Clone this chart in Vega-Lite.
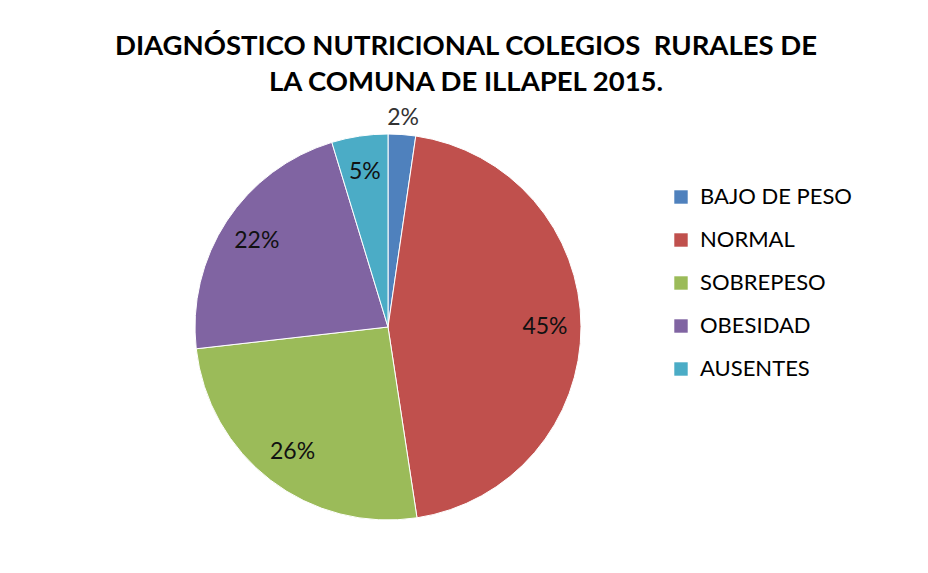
{
  "$schema": "https://vega.github.io/schema/vega-lite/v6.json",
  "width": 776,
  "height": 414,
  "autosize": "none",
  "padding": {"left": 0, "top": 120, "right": 152, "bottom": 39},
  "background": "white",
  "title": {
    "text": ["DIAGNÓSTICO NUTRICIONAL COLEGIOS \u00a0RURALES DE", "LA COMUNA DE ILLAPEL 2015."],
    "font": "Lato",
    "fontSize": 27.5,
    "fontWeight": "bold",
    "color": "#000000",
    "lineHeight": 36,
    "anchor": "middle",
    "dx": 78,
    "offset": 10
  },
  "data": {
    "values": [
      {"categoria": "BAJO DE PESO", "n": 1, "valor": 2.3, "etiqueta": "2%"},
      {"categoria": "NORMAL", "n": 2, "valor": 45.3, "etiqueta": "45%"},
      {"categoria": "SOBREPESO", "n": 3, "valor": 25.6, "etiqueta": "26%"},
      {"categoria": "OBESIDAD", "n": 4, "valor": 22.1, "etiqueta": "22%"},
      {"categoria": "AUSENTES", "n": 5, "valor": 4.7, "etiqueta": "5%"}
    ]
  },
  "encoding": {
    "theta": {"field": "valor", "type": "quantitative", "stack": true},
    "order": {"field": "n", "type": "quantitative"}
  },
  "layer": [
    {
      "mark": {"type": "arc", "outerRadius": 193, "stroke": "white", "strokeWidth": 1},
      "encoding": {
        "color": {
          "field": "categoria",
          "type": "nominal",
          "sort": null,
          "scale": {
            "domain": ["BAJO DE PESO", "NORMAL", "SOBREPESO", "OBESIDAD", "AUSENTES"],
            "range": ["#4F81BD", "#C0504D", "#9BBB59", "#8064A2", "#4BACC6"]
          },
          "legend": {
            "title": null,
            "orient": "none",
            "legendX": 670,
            "legendY": 66,
            "symbolType": "square",
            "symbolSize": 180,
            "symbolStrokeWidth": 0,
            "labelFont": "Lato",
            "labelFontSize": 22,
            "labelColor": "#000000",
            "labelOffset": 8,
            "labelLimit": 300,
            "rowPadding": 21
          }
        }
      }
    },
    {
      "mark": {"type": "text", "radius": 157, "font": "Lato", "fontSize": 23, "color": "#111111"},
      "encoding": {
        "text": {
          "condition": {"test": "datum.categoria === 'BAJO DE PESO'", "value": ""},
          "field": "etiqueta"
        }
      }
    },
    {
      "mark": {"type": "text", "radius": 210, "font": "Lato", "fontSize": 23, "color": "#333333"},
      "encoding": {
        "text": {
          "condition": {"test": "datum.categoria !== 'BAJO DE PESO'", "value": ""},
          "field": "etiqueta"
        }
      }
    }
  ]
}
